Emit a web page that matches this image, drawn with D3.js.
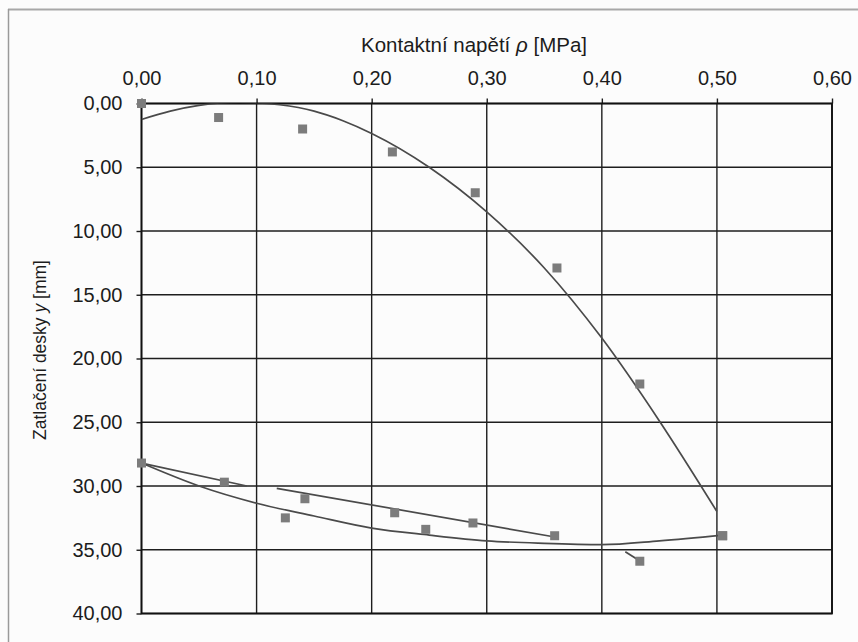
<!DOCTYPE html>
<html>
<head>
<meta charset="utf-8">
<script src="https://cdnjs.cloudflare.com/ajax/libs/d3/7.8.5/d3.min.js"></script>
<style>
  body { margin: 0; background: #fcfcfc; }
  text { font-family: "Liberation Sans", Arial, sans-serif; fill: #1c1c1c; }
</style>
</head>
<body>
<svg id="chart"></svg>
<script>
//tick values and labels
var xTicks = [0, 0.1, 0.2, 0.3, 0.4, 0.5, 0.6];
var xTickLabels = ["0,00", "0,10", "0,20", "0,30", "0,40", "0,50", "0,60"];
var yTicks = [0, 5, 10, 15, 20, 25, 30, 35, 40];
var yTickLabels = ["0,00", "5,00", "10,00", "15,00", "20,00", "25,00", "30,00", "35,00", "40,00"];

//measured points - loading
var loadP = [0, 0.067, 0.140, 0.218, 0.290, 0.361, 0.433, 0.505];
var loadY = [0, 1.1, 2.0, 3.8, 7.0, 12.9, 22.0, 33.9];

//measured points - unloading / reloading
var unloadP = [0.505, 0.433, 0.359, 0.288, 0.247, 0.220, 0.142, 0.125, 0.072, 0];
var unloadY = [33.9, 35.9, 33.9, 32.9, 33.4, 32.1, 31.0, 32.5, 29.7, 28.2];

//trend curves
var trendLoadP = [0, 0.025, 0.05, 0.085, 0.12, 0.15, 0.175, 0.2, 0.25, 0.3, 0.35, 0.4, 0.45, 0.5];
var trendLoadY = [1.25, 0.6, 0.15, -0.1, 0.1, 0.6, 1.35, 2.35, 5.0, 8.5, 12.9, 18.4, 24.9, 32.0];

var trendUnloadP = [0, 0.05, 0.1, 0.15, 0.2, 0.25, 0.3, 0.35, 0.4, 0.45, 0.505];
var trendUnloadY = [28.2, 30.0, 31.35, 32.35, 33.3, 33.85, 34.3, 34.5, 34.6, 34.3, 33.85];

var reloadAP = [0, 0.0915], reloadAY = [28.2, 30.0];
var reloadBP = [0.1175, 0.358], reloadBY = [30.18, 33.98];
var stubP = [0.4204, 0.4307], stubY = [35.15, 35.75];

//svg sizes and margins
var W = 858, H = 642;
var margin = { top: 103.5, right: 26, bottom: 28.5, left: 141.5 };
var width = W - margin.left - margin.right,
    height = H - margin.top - margin.bottom;

var svg = d3.select("#chart")
    .attr("width", W)
    .attr("height", H);

//scan frame lines
svg.append("line")
    .attr("x1", 8).attr("x2", W).attr("y1", 9.5).attr("y2", 9.5)
    .attr("stroke", "#a8a8a8").attr("stroke-width", 2);
svg.append("line")
    .attr("x1", 8.5).attr("x2", 8.5).attr("y1", 9).attr("y2", H)
    .attr("stroke", "#9a9a9a").attr("stroke-width", 1.5);

var g = svg.append("g")
    .attr("transform", "translate(" + margin.left + "," + margin.top + ")");

var x = d3.scaleLinear().domain([0, 0.6]).range([0, width]);
var y = d3.scaleLinear().domain([0, 40]).range([0, height]);

//grid
g.append("g").selectAll("line.vg")
    .data(xTicks).enter().append("line")
    .attr("class", "vg")
    .attr("x1", function (d) { return x(d); })
    .attr("x2", function (d) { return x(d); })
    .attr("y1", 0).attr("y2", height)
    .attr("stroke", "#1e1e1e").attr("stroke-width", 1.4);
g.append("g").selectAll("line.hg")
    .data(yTicks).enter().append("line")
    .attr("class", "hg")
    .attr("y1", function (d) { return y(d); })
    .attr("y2", function (d) { return y(d); })
    .attr("x1", 0).attr("x2", width)
    .attr("stroke", "#1e1e1e").attr("stroke-width", 1.4);

//axes
var xAxis = g.append("g")
    .call(d3.axisTop(x)
        .tickValues(xTicks)
        .tickSize(5)
        .tickPadding(14)
        .tickFormat(function (d, i) { return xTickLabels[i]; }));
var yAxis = g.append("g")
    .call(d3.axisLeft(y)
        .tickValues(yTicks)
        .tickSize(5)
        .tickPadding(14)
        .tickFormat(function (d, i) { return yTickLabels[i]; }));
[xAxis, yAxis].forEach(function (a) {
    a.select(".domain").remove();
    a.selectAll(".tick line").attr("stroke", "#1e1e1e").attr("stroke-width", 1.4);
    a.selectAll(".tick text")
        .style("font-family", "'Liberation Sans', Arial, sans-serif")
        .style("font-size", "20px")
        .attr("fill", "#1c1c1c");
});

//plot border
g.append("rect")
    .attr("width", width).attr("height", height)
    .attr("fill", "none")
    .attr("stroke", "#111").attr("stroke-width", 1.8);

//clip for curves
g.append("clipPath").attr("id", "clip")
    .append("rect").attr("width", width).attr("height", height);

var line = d3.line()
    .x(function (d) { return x(d[0]); })
    .y(function (d) { return y(d[1]); })
    .curve(d3.curveMonotoneX);

var curves = [
    [trendLoadP, trendLoadY],
    [trendUnloadP, trendUnloadY],
    [reloadAP, reloadAY],
    [reloadBP, reloadBY],
    [stubP, stubY]
];

g.append("g").attr("clip-path", "url(#clip)")
    .selectAll("path.trend")
    .data(curves).enter().append("path")
    .attr("class", "trend")
    .attr("d", function (c) { return line(d3.zip(c[0], c[1])); })
    .attr("fill", "none")
    .attr("stroke", "#4a4a4a")
    .attr("stroke-width", 1.7);

//markers
var pts = d3.zip(loadP, loadY).concat(d3.zip(unloadP, unloadY));
var ms = 9;
g.append("g").selectAll("rect.pt")
    .data(pts).enter().append("rect")
    .attr("class", "pt")
    .attr("x", function (d) { return x(d[0]) - ms / 2; })
    .attr("y", function (d) { return y(d[1]) - ms / 2; })
    .attr("width", ms).attr("height", ms)
    .attr("fill", "#7c7c7c");

//axis titles
var xt = svg.append("text")
    .attr("x", 474)
    .attr("y", 52)
    .attr("text-anchor", "middle")
    .style("font-size", "20.5px");
xt.append("tspan").text("Kontaktní napětí ");
xt.append("tspan").style("font-style", "italic").text("ρ");
xt.append("tspan").text(" [MPa]");

var yt = svg.append("text")
    .attr("transform", "translate(46,350) rotate(-90)")
    .attr("text-anchor", "middle")
    .style("font-size", "17.5px");
yt.append("tspan").text("Zatlačení desky ");
yt.append("tspan").style("font-style", "italic").text("y");
yt.append("tspan").text(" [mm]");
</script>
</body>
</html>
